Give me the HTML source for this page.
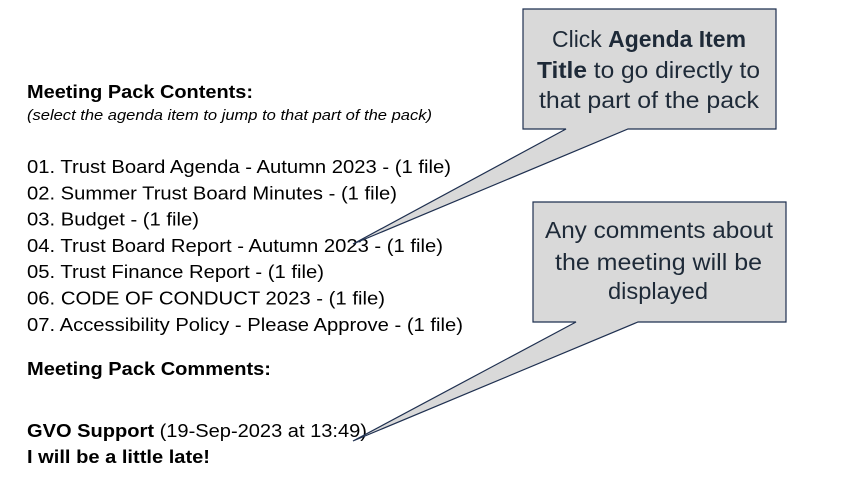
<!DOCTYPE html>
<html><head><meta charset="utf-8"><style>
html,body{margin:0;padding:0;background:#fff;}
svg{display:block;}
text{font-family:"Liberation Sans",Arial,sans-serif;}
</style></head><body>
<svg width="845" height="478" viewBox="0 0 845 478" xmlns="http://www.w3.org/2000/svg">
<g fill="#000">
<text x="27" y="98" font-size="18" font-weight="bold" textLength="226" lengthAdjust="spacingAndGlyphs">Meeting Pack Contents:</text>
<text x="27" y="120" font-size="15" font-style="italic" textLength="405" lengthAdjust="spacingAndGlyphs">(select the agenda item to jump to that part of the pack)</text>
<g font-size="18">
<text x="27" y="173" textLength="424" lengthAdjust="spacingAndGlyphs">01. Trust Board Agenda - Autumn 2023 - (1 file)</text>
<text x="27" y="199.3" textLength="370" lengthAdjust="spacingAndGlyphs">02. Summer Trust Board Minutes - (1 file)</text>
<text x="27" y="225.6" textLength="172" lengthAdjust="spacingAndGlyphs">03. Budget - (1 file)</text>
<text x="27" y="251.9" textLength="416" lengthAdjust="spacingAndGlyphs">04. Trust Board Report - Autumn 2023 - (1 file)</text>
<text x="27" y="278.2" textLength="297" lengthAdjust="spacingAndGlyphs">05. Trust Finance Report - (1 file)</text>
<text x="27" y="304.5" textLength="358" lengthAdjust="spacingAndGlyphs">06. CODE OF CONDUCT 2023 - (1 file)</text>
<text x="27" y="331" textLength="436" lengthAdjust="spacingAndGlyphs">07. Accessibility Policy - Please Approve - (1 file)</text>
</g>
<text x="27" y="375" font-size="18" font-weight="bold" textLength="244" lengthAdjust="spacingAndGlyphs">Meeting Pack Comments:</text>
<text x="27" y="437" font-size="18" textLength="340" lengthAdjust="spacingAndGlyphs"><tspan font-weight="bold">GVO Support</tspan> (19-Sep-2023 at 13:49)</text>
<text x="27" y="463" font-size="18" font-weight="bold" textLength="183" lengthAdjust="spacingAndGlyphs">I will be a little late!</text>
</g>
<g fill="#d9d9d9" stroke="#1f3050" stroke-width="1.2">
<path d="M523,9 H776 V129 H628 L353,244 L566,129 H523 Z"/>
<path d="M533,202 H786 V322 H638 L353,441 L576,322 H533 Z"/>
</g>
<g fill="#1e2a38" font-size="23" text-anchor="middle">
<text x="649" y="47" textLength="194" lengthAdjust="spacingAndGlyphs">Click <tspan font-weight="bold">Agenda Item</tspan></text>
<text x="648.5" y="78" textLength="223" lengthAdjust="spacingAndGlyphs"><tspan font-weight="bold">Title</tspan> to go directly to</text>
<text x="649" y="108" textLength="220" lengthAdjust="spacingAndGlyphs">that part of the pack</text>
<text x="659" y="238" textLength="228" lengthAdjust="spacingAndGlyphs">Any comments about</text>
<text x="658.5" y="270" textLength="207" lengthAdjust="spacingAndGlyphs">the meeting will be</text>
<text x="658" y="299" textLength="100" lengthAdjust="spacingAndGlyphs">displayed</text>
</g>
</svg>
</body></html>
